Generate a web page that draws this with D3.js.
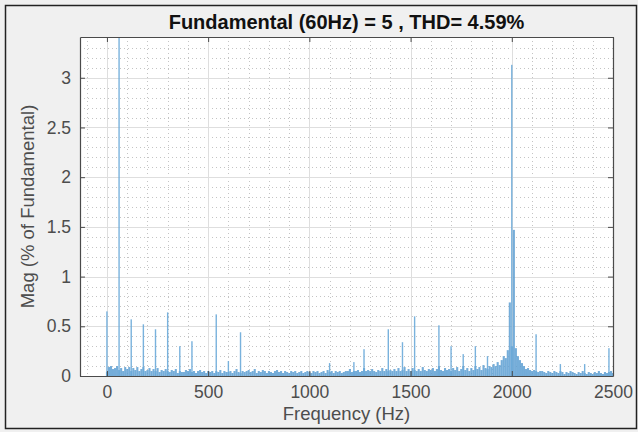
<!DOCTYPE html>
<html>
<head>
<meta charset="utf-8">
<script src="https://cdn.jsdelivr.net/npm/d3@7"></script>
<style>
  body { margin: 0; background: #f0f0f0; }
  text { font-family: "Liberation Sans", Arial, sans-serif; }
</style>
</head>
<body>
<div id="chart"></div>
<script>
// FFT spectrum, % of fundamental, 10 Hz bins from 0 to 2500 Hz
var binStep = 10;
var noiseMags = [
  0.04, 0.09, 0.10, 0.07, 0.08, 0.10, 0.06, 0.08, 0.05, 0.09,
  0.07, 0.09, 0.05, 0.08, 0.06, 0.09, 0.05, 0.07, 0.09, 0.05,
  0.06, 0.08, 0.05, 0.07, 0.05, 0.08, 0.04, 0.06, 0.05, 0.07,
  0.05, 0.04, 0.06, 0.05, 0.07, 0.03, 0.05, 0.04, 0.04, 0.06,
  0.05, 0.07, 0.04, 0.05, 0.03, 0.05, 0.06, 0.04, 0.05, 0.03,
  0.05, 0.04, 0.05, 0.03, 0.05, 0.04, 0.06, 0.03, 0.05, 0.04,
  0.04, 0.05, 0.03, 0.05, 0.07, 0.04, 0.03, 0.05, 0.04, 0.05,
  0.06, 0.04, 0.05, 0.07, 0.03, 0.05, 0.04, 0.06, 0.05, 0.03,
  0.05, 0.04, 0.03, 0.05, 0.06, 0.04, 0.05, 0.03, 0.05, 0.04,
  0.03, 0.05, 0.04, 0.05, 0.03, 0.04, 0.05, 0.03, 0.04, 0.05,
  0.04, 0.03, 0.05, 0.04, 0.05, 0.03, 0.04, 0.05, 0.03, 0.06,
  0.04, 0.05, 0.03, 0.05, 0.04, 0.05, 0.03, 0.04, 0.05, 0.05,
  0.07, 0.04, 0.05, 0.05, 0.06, 0.04, 0.05, 0.08, 0.05, 0.06,
  0.05, 0.07, 0.05, 0.04, 0.06, 0.05, 0.08, 0.05, 0.07, 0.05,
  0.06, 0.05, 0.07, 0.05, 0.08, 0.05, 0.06, 0.09, 0.05, 0.07,
  0.05, 0.08, 0.06, 0.05, 0.07, 0.05, 0.09, 0.06, 0.05, 0.07,
  0.06, 0.08, 0.05, 0.07, 0.10, 0.06, 0.05, 0.08, 0.06, 0.07,
  0.05, 0.08, 0.06, 0.09, 0.05, 0.07, 0.10, 0.06, 0.08, 0.05,
  0.08, 0.06, 0.10, 0.07, 0.09, 0.06, 0.11, 0.08, 0.07, 0.10,
  0.09, 0.12, 0.10, 0.14, 0.11, 0.16, 0.20, 0.18, 0.26, 0.74,
  0.30, 1.47, 0.28, 0.20, 0.16, 0.13, 0.10, 0.07, 0.08, 0.06,
  0.05, 0.06, 0.05, 0.04, 0.05, 0.05, 0.04, 0.03, 0.05, 0.04,
  0.03, 0.05, 0.04, 0.03, 0.05, 0.04, 0.02, 0.04, 0.03, 0.05,
  0.04, 0.03, 0.02, 0.04, 0.03, 0.05, 0.03, 0.02, 0.04, 0.03,
  0.02, 0.04, 0.03, 0.05, 0.03, 0.02, 0.04, 0.03, 0.04, 0.05,
  0.03
];

// distinct spectral lines
var peakFreqs = [0, 60, 120, 180, 240, 300, 360, 420, 540, 600, 660, 1100, 1220, 1270,
  1390, 1460, 1520, 1640, 1700, 1760, 1820, 1880, 2000, 2120, 2240, 2360, 2480];
var peakMags = [0.65, 100, 0.57, 0.52, 0.47, 0.64, 0.30, 0.35, 0.62, 0.15, 0.44, 0.13, 0.14, 0.27,
  0.47, 0.34, 0.60, 0.51, 0.30, 0.22, 0.30, 0.20, 3.13, 0.42, 0.12, 0.12, 0.28];

var xTicks = [0, 500, 1000, 1500, 2000, 2500];
var yTicks = [0, 0.5, 1, 1.5, 2, 2.5, 3];
var titleText = 'Fundamental (60Hz) = 5 , THD= 4.59%';

var W = 638, H = 432;
var margin = { top: 37, right: 25, bottom: 56, left: 80 },
  w = W - margin.left - margin.right,
  h = H - margin.top - margin.bottom;

var x = d3.scaleLinear().domain([-133, 2500]).range([0, w]);
var y = d3.scaleLinear().domain([0, 3.41]).range([h, 0]);

var svg = d3.select('#chart').append('svg')
  .attr('width', W).attr('height', H);

svg.append('rect').attr('width', W).attr('height', H).attr('fill', '#f0f0f0');
// outer frame
svg.append('rect')
  .attr('x', 5.5).attr('y', 5.5).attr('width', 631).attr('height', 423)
  .attr('fill', 'none').attr('stroke', '#222').attr('stroke-width', 1.5);

var g = svg.append('g')
  .attr('transform', 'translate(' + margin.left + ',' + margin.top + ')');

g.append('rect').attr('width', w).attr('height', h).attr('fill', '#fff');

g.append('clipPath').attr('id', 'plotclip')
  .append('rect').attr('width', w).attr('height', h);

// minor grid
var xMinor = d3.range(-100, 2501, 100).filter(function(v) { return v % 500 !== 0; });
var yMinor = d3.range(0, 34).map(function(i) { return i / 10; })
  .filter(function(v) { return Math.round(v * 10) % 5 !== 0; });
var grid = g.append('g');
grid.selectAll('.xminor').data(xMinor).enter().append('line')
  .attr('x1', function(d) { return Math.round(x(d)) + 0.5; })
  .attr('x2', function(d) { return Math.round(x(d)) + 0.5; })
  .attr('y1', 0).attr('y2', h)
  .attr('stroke', '#c4c4c4').attr('stroke-dasharray', '1,3');
grid.selectAll('.yminor').data(yMinor).enter().append('line')
  .attr('y1', function(d) { return Math.round(y(d)) + 0.5; })
  .attr('y2', function(d) { return Math.round(y(d)) + 0.5; })
  .attr('x1', 0).attr('x2', w)
  .attr('stroke', '#c4c4c4').attr('stroke-dasharray', '1,3');
// major grid
grid.selectAll('.xmajor').data(xTicks).enter().append('line')
  .attr('x1', function(d) { return Math.round(x(d)) + 0.5; })
  .attr('x2', function(d) { return Math.round(x(d)) + 0.5; })
  .attr('y1', 0).attr('y2', h)
  .attr('stroke', '#dedede');
grid.selectAll('.ymajor').data(yTicks).enter().append('line')
  .attr('y1', function(d) { return Math.round(y(d)) + 0.5; })
  .attr('y2', function(d) { return Math.round(y(d)) + 0.5; })
  .attr('x1', 0).attr('x2', w)
  .attr('stroke', '#dedede');

var bars = g.append('g').attr('clip-path', 'url(#plotclip)');

// noise floor bins (contiguous, reads as a filled band)
bars.selectAll('.noise').data(noiseMags).enter().append('rect')
  .attr('x', function(d, i) { return x(i * binStep) - 1; })
  .attr('width', 2.1)
  .attr('y', function(d) { return y(d); })
  .attr('height', function(d) { return h - y(d); })
  .attr('fill', '#5d9fd2').attr('opacity', 0.85);

// spectral lines
var peaks = peakFreqs.map(function(f, i) { return { f: f, m: peakMags[i] }; });
bars.selectAll('.peak').data(peaks).enter().append('rect')
  .attr('x', function(d) { return x(d.f) - 0.7; })
  .attr('width', 1.4)
  .attr('y', function(d) { return y(Math.min(d.m, 4)); })
  .attr('height', function(d) { return h - y(Math.min(d.m, 4)); })
  .attr('fill', '#6aaad9').attr('opacity', 0.9);

// axes (box, inward ticks)
var axisColor = '#4a4a4a';
var xAxis = g.append('g').attr('transform', 'translate(0,' + h + ')')
  .call(d3.axisBottom(x).tickValues(xTicks).tickSizeInner(-5).tickSizeOuter(0).tickPadding(10)
    .tickFormat(d3.format('d')));
var xAxisTop = g.append('g')
  .call(d3.axisTop(x).tickValues(xTicks).tickSizeInner(-5).tickSizeOuter(0).tickFormat(''));
var yAxis = g.append('g')
  .call(d3.axisLeft(y).tickValues(yTicks).tickSizeInner(-5).tickSizeOuter(0).tickPadding(9)
    .tickFormat(function(d) { return String(d); }));
var yAxisRight = g.append('g').attr('transform', 'translate(' + w + ',0)')
  .call(d3.axisRight(y).tickValues(yTicks).tickSizeInner(-5).tickSizeOuter(0).tickFormat(''));

[xAxis, xAxisTop, yAxis, yAxisRight].forEach(function(a) {
  a.select('.domain').attr('stroke', axisColor).attr('stroke-width', 1.2);
  a.selectAll('.tick line').attr('stroke', axisColor);
  a.selectAll('.tick text').attr('fill', '#4d4d4d').style('font-size', '17.5px')
    .style('font-family', '"Liberation Sans", Arial, sans-serif');
});

// title and labels
svg.append('text')
  .attr('x', margin.left + w / 2).attr('y', 29)
  .attr('text-anchor', 'middle')
  .style('font-size', '20px').style('font-weight', 'bold').attr('fill', '#111')
  .text(titleText);

svg.append('text')
  .attr('x', margin.left + w / 2).attr('y', 420)
  .attr('text-anchor', 'middle')
  .style('font-size', '18.5px').attr('fill', '#4d4d4d')
  .text('Frequency (Hz)');

svg.append('text')
  .attr('transform', 'translate(34,' + (margin.top + h / 2) + ') rotate(-90)')
  .attr('text-anchor', 'middle')
  .style('font-size', '18.5px').attr('fill', '#4d4d4d')
  .text('Mag (% of Fundamental)');
</script>
</body>
</html>
